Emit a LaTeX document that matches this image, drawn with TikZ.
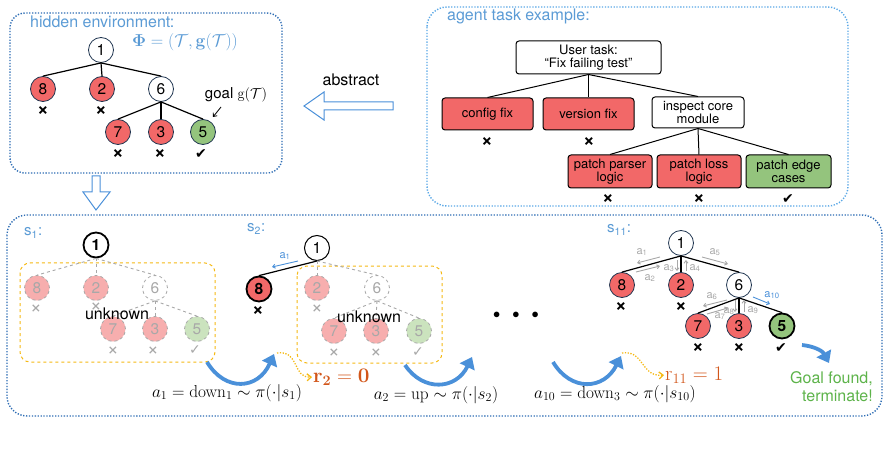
\documentclass[tikz,border=0pt]{standalone}
\usepackage[no-math]{fontspec}
\newfontfamily\hv{TeX Gyre Heros}
\newfontfamily\dv{DejaVu Sans}
\usetikzlibrary{arrows.meta}
\definecolor{frameblue}{HTML}{2E6DB4}
\definecolor{lightframe}{HTML}{5BA8E6}
\definecolor{titleblue}{HTML}{5B9BD5}
\definecolor{nred}{HTML}{F26868}
\definecolor{ngreen}{HTML}{94C47D}
\definecolor{fred}{HTML}{F7AEAE}
\definecolor{fgreen}{HTML}{CBE3BE}
\definecolor{ygold}{HTML}{F5B914}
\definecolor{rorange}{HTML}{D2561A}
\definecolor{arrblue}{HTML}{4A90D9}
\definecolor{goalgreen}{HTML}{5DB34A}
\definecolor{nedge}{HTML}{1F3550}
\definecolor{fgray}{HTML}{A8A8A8}
\newcommand{\fsz}[1]{\fontsize{#1}{#1}\selectfont}
\begin{document}
\begin{tikzpicture}[x=1pt,y=-1pt,
  tn/.style={circle,minimum size=25pt,inner sep=0pt,draw=nedge,line width=0.8pt,fill=white,font=\hv\fsz{15.5}},
  rn/.style={tn,fill=nred},
  gn/.style={tn,fill=ngreen},
  bn/.style={line width=1.8pt,draw=black,font=\hv\bfseries\fsz{15.5}},
  fn/.style={tn,dashed,draw=fgray,text=fgray},
  frn/.style={fn,fill=fred},
  fgn/.style={fn,fill=fgreen},
  xmk/.style={font=\hv\bfseries\fsz{20},inner sep=0pt},
  fxmk/.style={xmk,font=\hv\fsz{20},text=fgray},
  ck/.style={font=\dv\fsz{14},inner sep=0pt},
  fck/.style={ck,text=fgray},
  tedge/.style={line width=1.2pt},
  fedge/.style={dashed,fgray,line width=0.9pt},
  panel/.style={line width=1.4pt,dash pattern=on 1.3pt off 1.6pt},
  box/.style={rectangle,rounded corners=3pt,draw=black,line width=1pt,align=center,font=\hv\fsz{13},inner sep=0pt},
  bigarr/.style={arrblue,line width=3.8pt,-{Triangle[length=11pt,width=16pt]}},
  dotarr/.style={ygold,line width=1.3pt,dash pattern=on 1.3pt off 1.5pt,shorten >=1pt,-{Straight Barb[length=4pt,width=7pt]}},
  act/.style={fgray,line width=0.9pt,-{Straight Barb[length=2.5pt,width=4pt]}},
  actlbl/.style={fgray,font=\hv\fsz{11},inner sep=0pt},
  ttl/.style={titleblue,font=\hv\fsz{16},inner sep=0pt},
  slbl/.style={titleblue,font=\hv\fsz{15},inner sep=0pt,anchor=west},
  unk/.style={font=\hv\fsz{16},inner sep=0pt},
  mth/.style={font=\fsz{18},inner sep=0pt},
  ybox/.style={ygold,dashed,line width=1pt,rounded corners=10pt}
]
\useasboundingbox (0,0) rectangle (889,473);

% ---------------- panels ----------------
\draw[panel,frameblue,rounded corners=15pt] (10,13) rectangle (282,173);
\draw[panel,lightframe,rounded corners=20pt] (427,7) rectangle (848,206);
\draw[panel,frameblue,rounded corners=20pt] (7,215) rectangle (882,416);

% ---------------- hidden environment ----------------
\node[ttl,anchor=west] (envt) at (30,22) {hidden environment:};
\node[titleblue,font=\fsz{16},inner sep=0pt] (phi) at (185,42) {$\mathbf{\Phi}=(\mathcal{T},\mathbf{g}(\mathcal{T}))$};
\node[tn] (e1) at (101,50) {1};
\node[rn] (e8) at (43,89) {8};
\node[rn] (e2) at (102,89) {2};
\node[tn] (e6) at (161,89) {6};
\node[rn] (e7) at (118,132) {7};
\node[rn] (e3) at (161,132) {3};
\node[gn] (e5) at (203,132) {5};
\draw[tedge] (e1.south) -- (e8.north);
\draw[tedge] (e1.south) -- (e2.north);
\draw[tedge] (e1.south) -- (e6.north);
\draw[tedge] (e6.south) -- (e7.north);
\draw[tedge] (e6.south) -- (e3.north);
\draw[tedge] (e6.south) -- (e5.north);
\node[xmk] (ex8) at (43,111) {×};
\node[xmk] (ex2) at (101,111) {×};
\node[xmk] (ex7) at (118,154) {×};
\node[xmk] (ex3) at (160,154) {×};
\node[ck] (ec5) at (201,154) {✔};
\node[font=\hv\fsz{15},inner sep=0pt] (goal) at (236,95) {goal $\mathrm{g}(\mathcal{T})$};
\coordinate (goalarr) at (213,117);
\draw[line width=0.8pt,-{Straight Barb[length=3pt,width=5pt]}] (221,107) -- (goalarr);

% hollow arrows
\draw[arrblue,line width=1pt,fill=white] (393,102) -- (324,102) -- (324,92) -- (304,106) -- (324,120) -- (324,110) -- (393,110) -- cycle;
\node[font=\hv\fsz{16},inner sep=0pt] (abs) at (351,80) {abstract};
\draw[arrblue,line width=1pt,fill=white] (92,176) -- (100,176) -- (100,192) -- (110,192) -- (96,210) -- (83,192) -- (92,192) -- cycle;

% ---------------- agent task example ----------------
\node[ttl,anchor=west] (agt) at (447,16) {agent task example:};
\node[box,minimum width=145pt,minimum height=33pt] (ut) at (588.5,57.5) {User task:\\“Fix failing test”};
\node[box,fill=nred,minimum width=91pt,minimum height=32pt] (cf) at (487.5,114) {config fix};
\node[box,fill=nred,minimum width=91pt,minimum height=32pt] (vf) at (588.5,114) {version fix};
\node[box,minimum width=92pt,minimum height=31pt] (ic) at (698,112.5) {inspect core\\module};
\node[box,fill=nred,minimum width=84pt,minimum height=33pt] (pp) at (610,171.5) {patch parser\\logic};
\node[box,fill=nred,minimum width=84pt,minimum height=33pt] (pl) at (699,171.5) {patch loss\\logic};
\node[box,fill=ngreen,minimum width=85pt,minimum height=33pt] (pe) at (788.5,171.5) {patch edge\\cases};
\draw[line width=1pt] (ut.south) -- (cf.north);
\draw[line width=1pt] (ut.south) -- (vf.north);
\draw[line width=1pt] (ut.south) -- (ic.north);
\draw[line width=1pt] (ic.south) -- (pp.north);
\draw[line width=1pt] (ic.south) -- (pl.north);
\draw[line width=1pt] (ic.south) -- (pe.north);
\node[xmk] (cfx) at (487,142) {×};
\node[xmk] (vfx) at (589,142) {×};
\node[xmk] (ppx) at (608,199) {×};
\node[xmk] (plx) at (699,199) {×};
\node[ck] (pec) at (788,199) {✔};

% ---------------- s1 ----------------
\node[slbl] (s1l) at (24,233) {s\textsubscript{1}:};
\draw[ybox] (20,263) rectangle (215,362);
\node[tn,bn] (p1) at (96,245) {1};
\node[frn] (p8) at (37,288) {8};
\node[frn] (p2) at (96,288) {2};
\node[fn] (p6) at (155,288) {6};
\node[frn] (p7) at (113,329) {7};
\node[frn] (p3) at (155,329) {3};
\node[fgn] (p5) at (197,329) {5};
\draw[fedge] (p1.south) -- (p8.north);
\draw[fedge] (p1.south) -- (p2.north);
\draw[fedge] (p1.south) -- (p6.north);
\draw[fedge] (p6.south) -- (p7.north);
\draw[fedge] (p6.south) -- (p3.north);
\draw[fedge] (p6.south) -- (p5.north);
\node[fxmk] (px8) at (36,309) {×};
\node[fxmk] (px2) at (96,307) {×};
\node[fxmk] (px7) at (113,351) {×};
\node[fxmk] (px3) at (153,351) {×};
\node[fck] (pc5) at (195,350) {✓};
\node[unk] (unk1) at (117,314) {unknown};

\coordinate (b1s) at (207,362);
\coordinate (b1e) at (274,354);
\draw[bigarr] (b1s) .. controls (225,392) and (258,390) .. (b1e);
\node[mth] (m1) at (227,393) {$a_1=\mathrm{down}_1\sim\pi(\cdot|s_1)$};

% ---------------- s2 ----------------
\node[slbl] (s2l) at (247,229) {s\textsubscript{2}:};
\draw[ybox] (297,266) rectangle (442,363);
\node[tn,line width=1pt,draw=black] (q1) at (317,248) {1};
\node[rn,bn] (q8) at (259,289) {8};
\node[frn] (q2) at (317,288) {2};
\node[fn] (q6) at (377,288) {6};
\node[frn] (q7) at (334,331) {7};
\node[frn] (q3) at (376,331) {3};
\node[fgn] (q5) at (419,331) {5};
\draw[tedge] (q1.south) -- (q8.north);
\draw[fedge] (q1.south) -- (q2.north);
\draw[fedge] (q1.south) -- (q6.north);
\draw[fedge] (q6.south) -- (q7.north);
\draw[fedge] (q6.south) -- (q3.north);
\draw[fedge] (q6.south) -- (q5.north);
\node[xmk] (qx8) at (258,311) {×};
\node[fxmk] (qx2) at (317,309) {×};
\node[fxmk] (qx7) at (334,353) {×};
\node[fxmk] (qx3) at (376,353) {×};
\node[fck] (qc5) at (418,352) {✓};
\node[unk] (unk2) at (369,317) {unknown};
\draw[arrblue,line width=0.9pt,-{Straight Barb[length=2.5pt,width=4pt]}] (298,261) -- (272,267);
\node[arrblue,font=\hv\fsz{11},inner sep=0pt] (qa1) at (285,256) {a\textsubscript{1}};

\coordinate (d1s) at (277,353);
\node[rorange,font=\fsz{21},inner sep=0pt,anchor=west] (rtwo) at (313,377) {$\mathbf{r}_{\mathbf{2}}=\mathbf{0}$};
\draw[dotarr] (d1s) .. controls (300,350) and (292,378) .. (rtwo.west);

\coordinate (b2s) at (405,365);
\coordinate (b2e) at (472,357);
\draw[bigarr] (b2s) .. controls (423,392) and (456,390) .. (b2e);
\node[mth] (m2) at (436,395) {$a_2=\mathrm{up}\sim\pi(\cdot|s_2)$};

\node[font=\fsz{14},inner sep=0pt] (dots) at (516,315) {$\bullet$\hspace{12pt}$\bullet$\hspace{12pt}$\bullet$};

% ---------------- s11 ----------------
\coordinate (b3s) at (553,362);
\coordinate (b3e) at (621,356);
\draw[bigarr] (b3s) .. controls (571,392) and (604,390) .. (b3e);
\node[mth] (m3) at (615,394) {$a_{10}=\mathrm{down}_3\sim\pi(\cdot|s_{10})$};
\coordinate (d2s) at (622,353);
\node[rorange,font=\fsz{21},inner sep=0pt,anchor=west] (relev) at (665,375) {$\mathrm{r}_{11}=1$};
\draw[dotarr] (d2s) .. controls (645,350) and (640,377) .. (relev.west);

\node[slbl] (s11l) at (607,230) {s\textsubscript{11}:};
\node[tn] (t1) at (681,243) {1};
\node[rn] (t8) at (622,285) {8};
\node[rn] (t2) at (681,285) {2};
\node[tn] (t6) at (739,285) {6};
\node[rn] (t7) at (698,326) {7};
\node[rn] (t3) at (739,326) {3};
\node[gn,bn] (t5) at (782,326) {5};
\draw[tedge] (t1.south) -- (t8.north);
\draw[tedge,line width=1.8pt] (t1.south) -- (t2.north);
\draw[tedge] (t1.south) -- (t6.north);
\draw[tedge] (t6.south) -- (t7.north);
\draw[tedge,line width=1.8pt] (t6.south) -- (t3.north);
\draw[tedge] (t6.south) -- (t5.north);
\node[xmk] (tx8) at (621,307) {×};
\node[xmk] (tx2) at (681,307) {×};
\node[xmk] (tx7) at (698,348) {×};
\node[xmk] (tx3) at (739,348) {×};
\node[ck] (tc5) at (781,348) {✔};

% action annotations
\draw[act] (660,257) -- (637,263);
\node[actlbl] (la1) at (642,252) {a\textsubscript{1}};
\draw[act] (636,272) -- (660,266);
\node[actlbl] (la2) at (650,278) {a\textsubscript{2}};
\draw[act] (677,260) -- (677,271);
\node[actlbl] (la3) at (669,268) {a\textsubscript{3}};
\draw[act] (686,271) -- (686,260);
\node[actlbl] (la4) at (695,268) {a\textsubscript{4}};
\draw[act] (702,257) -- (728,264);
\node[actlbl] (la5) at (715,252) {a\textsubscript{5}};
\draw[act] (727,300) -- (703,306);
\node[actlbl] (la6) at (712,296) {a\textsubscript{6}};
\draw[act] (707,314) -- (728,308);
\node[actlbl] (la7) at (720,316) {a\textsubscript{7}};
\draw[act] (735,300) -- (735,312);
\node[actlbl] (la8) at (729,311) {a\textsubscript{8}};
\draw[act] (744,312) -- (744,300);
\node[actlbl] (la9) at (753,310) {a\textsubscript{9}};
\draw[arrblue,line width=0.9pt,-{Straight Barb[length=2.5pt,width=4pt]}] (753,297) -- (770,304);
\node[arrblue,font=\hv\fsz{11},inner sep=0pt] (la10) at (772,295) {a\textsubscript{10}};

\coordinate (gs) at (802,345);
\coordinate (ge) at (829,363);
\draw[bigarr] (gs) .. controls (812,346) and (822,350) .. (ge);
\node[goalgreen,font=\hv\fsz{16},align=right,inner sep=0pt,anchor=east] (gf) at (873,387) {Goal found,\\[2pt]terminate!};
\end{tikzpicture}
\end{document}
